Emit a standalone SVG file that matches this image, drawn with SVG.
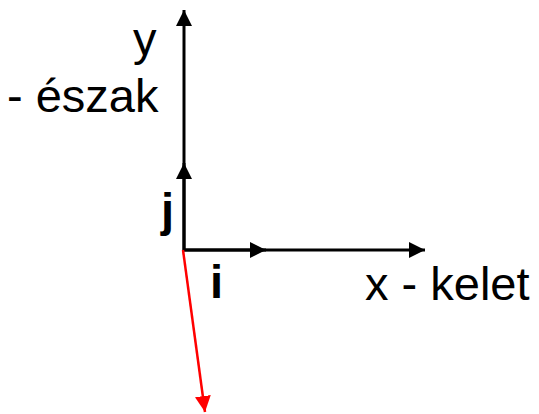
<svg xmlns="http://www.w3.org/2000/svg" width="539" height="414" viewBox="0 0 539 414">
<style>
.ax{stroke:#000;stroke-width:3;fill:none}
.red{stroke:#ff0000;stroke-width:2.5;fill:none}
.t{font-family:"Liberation Sans",Arial,sans-serif;font-size:47px;fill:#000}
.b{font-weight:bold}
</style>
<defs>
<marker id="ah" viewBox="0 0 10 10" refX="10" refY="5" markerWidth="16" markerHeight="16" markerUnits="userSpaceOnUse" orient="auto">
<path d="M0,0 L10,5 L0,10 z" fill="#000"/>
</marker>
<marker id="ahr" viewBox="0 0 10 10" refX="10" refY="5" markerWidth="16" markerHeight="16" markerUnits="userSpaceOnUse" orient="auto">
<path d="M0,0 L10,5 L0,10 z" fill="#ff0000"/>
</marker>
</defs>
<g id="connectors">
<line class="ax" x1="184" y1="251" x2="184" y2="10" marker-end="url(#ah)"/>
<line class="ax" x1="184" y1="251" x2="184" y2="163" marker-end="url(#ah)"/>
<line class="ax" x1="184" y1="250" x2="425" y2="250" marker-end="url(#ah)"/>
<line class="ax" x1="184" y1="250" x2="266" y2="250" marker-end="url(#ah)"/>
<line class="red" x1="183" y1="250" x2="205" y2="412" marker-end="url(#ahr)"/>
</g>
<g id="label-y"><text class="t" x="133" y="55">y</text></g>
<g id="label-eszak"><text class="t" x="7" y="112">- észak</text></g>
<g id="label-j"><text class="t b" x="161" y="226">j</text></g>
<g id="label-i"><text class="t b" x="210" y="298">i</text></g>
<g id="label-x"><text class="t" x="365" y="300">x - kelet</text></g>
</svg>
